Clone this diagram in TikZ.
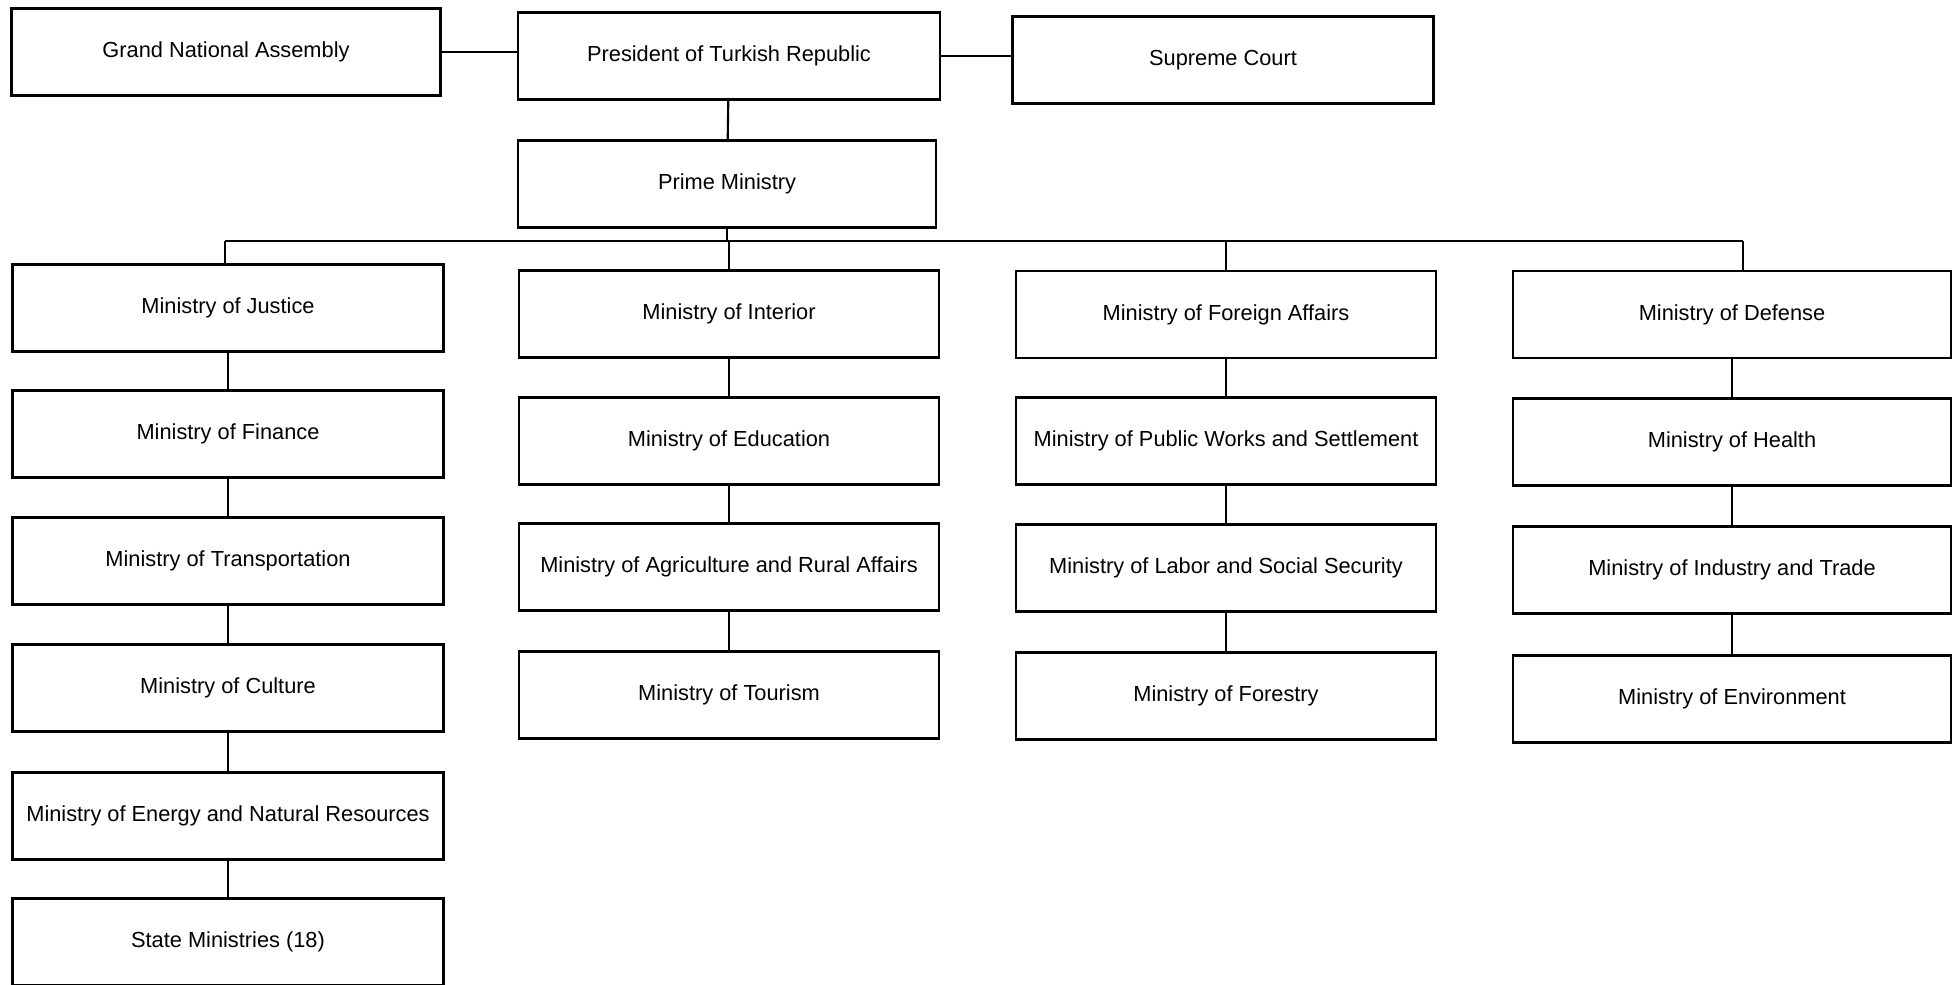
\documentclass[tikz,border=0pt]{standalone}
\usepackage{fontspec}
\setmainfont{Liberation Sans}
\usepackage{tikz}

\tikzset{
    office/.style={
        draw=black,
        line width=0.6pt,
        minimum width=4.2cm,
        minimum height=0.87cm,
        inner sep=1pt,
        font=\fontsize{6.2}{7.5}\selectfont
        },
    link/.style={black, line width=0.6pt}
}

\begin{document}
\begin{tikzpicture}
    \useasboundingbox (0,0) rectangle (19.57,-9.84);

    % Top level
    \node[office, minimum width=4.29cm] (assembly) at (2.26,-0.52) {Grand National Assembly};
    \node[office, minimum width=4.22cm] (president) at (7.29,-0.56) {President of Turkish Republic};
    \node[office, minimum width=4.21cm] (court) at (12.23,-0.60) {Supreme Court};
    \node[office, minimum width=4.18cm] (prime) at (7.27,-1.84) {Prime Ministry};

    % Ministries, first column
    \node[office, minimum width=4.31cm] (justice) at (2.28,-3.08) {Ministry of Justice};
    \node[office, minimum width=4.31cm] (finance) at (2.28,-4.34) {Ministry of Finance};
    \node[office, minimum width=4.31cm] (transport) at (2.28,-5.61) {Ministry of Transportation};
    \node[office, minimum width=4.31cm] (culture) at (2.28,-6.88) {Ministry of Culture};
    \node[office, minimum width=4.31cm] (energy) at (2.28,-8.16) {Ministry of Energy and Natural Resources};
    \node[office, minimum width=4.31cm] (state) at (2.28,-9.42) {State Ministries (18)};

    % Second column
    \node[office] (interior) at (7.29,-3.14) {Ministry of Interior};
    \node[office] (education) at (7.29,-4.41) {Ministry of Education};
    \node[office] (agriculture) at (7.29,-5.67) {Ministry of Agriculture and Rural Affairs};
    \node[office] (tourism) at (7.29,-6.95) {Ministry of Tourism};

    % Third column
    \node[office] (foreign) at (12.26,-3.145) {Ministry of Foreign Affairs};
    \node[office] (publicworks) at (12.26,-4.41) {Ministry of Public Works and Settlement};
    \node[office] (labor) at (12.26,-5.68) {Ministry of Labor and Social Security};
    \node[office] (forestry) at (12.26,-6.96) {Ministry of Forestry};

    % Fourth column
    \node[office, minimum width=4.38cm] (defense) at (17.32,-3.145) {Ministry of Defense};
    \node[office, minimum width=4.38cm] (health) at (17.32,-4.42) {Ministry of Health};
    \node[office, minimum width=4.38cm] (industry) at (17.32,-5.70) {Ministry of Industry and Trade};
    \node[office, minimum width=4.38cm] (environment) at (17.32,-6.99) {Ministry of Environment};

    % Links of the top level
    \draw[link] (assembly.east) -- (president.west |- assembly.east);
    \draw[link] (president.east) -- (court.west |- president.east);
    \draw[link] (president) -- (prime);

    % Bus under the Prime Ministry
    \coordinate (busleft) at (2.25,-2.41);
    \coordinate (busright) at (17.43,-2.41);
    \draw[link] (busleft) -- (busright);
    \draw[link] (prime.south) -- (prime.south |- busleft);
    \draw[link] (busleft) -- (busleft |- justice.north);
    \draw[link] (interior.north |- busleft) -- (interior.north);
    \draw[link] (foreign.north |- busleft) -- (foreign.north);
    \draw[link] (busright) -- (busright |- defense.north);

    % Chains in each column
    \foreach \upper/\lower in {justice/finance, finance/transport, transport/culture,
        culture/energy, energy/state, interior/education, education/agriculture,
        agriculture/tourism, foreign/publicworks, publicworks/labor, labor/forestry,
        defense/health, health/industry, industry/environment}
        \draw[link] (\upper) -- (\lower);
\end{tikzpicture}
\end{document}
